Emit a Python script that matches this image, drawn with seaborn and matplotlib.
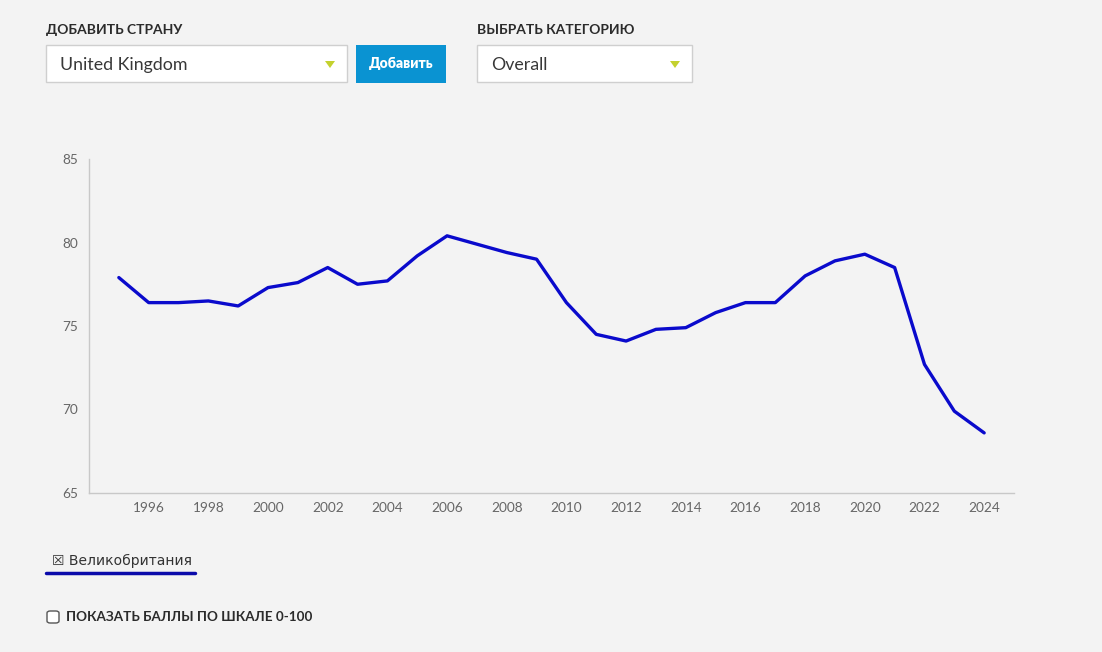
import pandas as pd
import matplotlib.pyplot as plt
from matplotlib.patches import Rectangle, Polygon, FancyBboxPatch
import seaborn as sns

sns.set_style("white")
plt.rcParams['font.family'] = ['Lato', 'DejaVu Sans']

years = list(range(1995, 2025))
scores = [77.9, 76.4, 76.4, 76.5, 76.2, 77.3, 77.6, 78.5, 77.5, 77.7,
          79.2, 80.4, 79.9, 79.4, 79.0, 76.4, 74.5, 74.1, 74.8, 74.9,
          75.8, 76.4, 76.4, 78.0, 78.9, 79.3, 78.5, 72.7, 69.9, 68.6]
country = 'Великобритания'
x_ticks = list(range(1996, 2025, 2))
y_ticks = [65, 70, 75, 80, 85]

df = pd.DataFrame({'year': years, 'score': scores})

W, H = 1102, 652
bg = '#f3f3f3'
fig = plt.figure(figsize=(W / 100, H / 100), dpi=100, facecolor=bg)

def fx(px):
    return px / W

def fy(py):
    return 1 - py / H

ax = fig.add_axes([fx(89), fy(493), fx(1014) - fx(89), fy(159) - fy(493)])
ax.set_facecolor(bg)
sns.lineplot(data=df, x='year', y='score', color='#0a0acc', linewidth=2.4, ax=ax)
ax.set_xlim(1994, 2025)
ax.set_ylim(65, 85)
ax.set_xticks(x_ticks)
ax.set_yticks(y_ticks)
ax.set_xlabel('')
ax.set_ylabel('')
for s in ['top', 'right']:
    ax.spines[s].set_visible(False)
for s in ['left', 'bottom']:
    ax.spines[s].set_color('#c8c8c8')
    ax.spines[s].set_linewidth(1)
ax.tick_params(axis='both', colors='#c8c8c8', labelcolor='#666666', labelsize=9.8, length=5, width=1)
ax.tick_params(axis='x', direction='inout', pad=4)
ax.tick_params(axis='y', direction='out', pad=3)
ax.grid(False)

# top controls
lbl = dict(fontsize=10, fontweight='bold', color='#2b2b2b', va='center', ha='left')
fig.text(fx(46), fy(30), 'ДОБАВИТЬ СТРАНУ', **lbl)
fig.text(fx(477), fy(30), 'ВЫБРАТЬ КАТЕГОРИЮ', **lbl)

def dropdown(x0, x1, text):
    fig.patches.append(Rectangle((fx(x0), fy(82)), fx(x1) - fx(x0), fy(45) - fy(82),
                                 transform=fig.transFigure, facecolor='white',
                                 edgecolor='#cfcfcf', linewidth=1))
    fig.text(fx(x0 + 14), fy(65), text, fontsize=12.8, color='#383838',
             va='center', ha='left')
    tx = x1 - 17
    fig.patches.append(Polygon([(fx(tx - 5), fy(61)), (fx(tx + 5), fy(61)), (fx(tx), fy(68))],
                               closed=True, transform=fig.transFigure,
                               facecolor='#c4d12e', edgecolor='none'))

dropdown(46, 347, 'United Kingdom')
dropdown(477, 692, 'Overall')

fig.patches.append(Rectangle((fx(356), fy(83)), fx(446) - fx(356), fy(45) - fy(83),
                             transform=fig.transFigure, facecolor='#0a93d2', edgecolor='none'))
fig.text(fx(401), fy(64), 'Добавить', fontsize=10, fontweight='heavy', color='white',
         va='center', ha='center')

# legend
fig.text(fx(52), fy(561), '☒ ' + country, fontsize=10, color='#333333', va='center', ha='left',
         family=['DejaVu Sans'])
fig.add_artist(plt.Line2D([fx(46), fx(195)], [fy(573), fy(573)], color='#0a0aaa',
                          linewidth=2.5, transform=fig.transFigure))

# checkbox
fig.patches.append(FancyBboxPatch((fx(47), fy(623)), fx(12), fy(611) - fy(623),
                                  boxstyle='round,pad=0,rounding_size=0.003',
                                  transform=fig.transFigure, facecolor='white',
                                  edgecolor='#555555', linewidth=1))
fig.text(fx(66), fy(617), 'ПОКАЗАТЬ БАЛЛЫ ПО ШКАЛЕ 0-100', fontsize=9.7, fontweight='bold',
         color='#2b2b2b', va='center', ha='left')

plt.savefig('out.png', dpi=100, facecolor=bg)
